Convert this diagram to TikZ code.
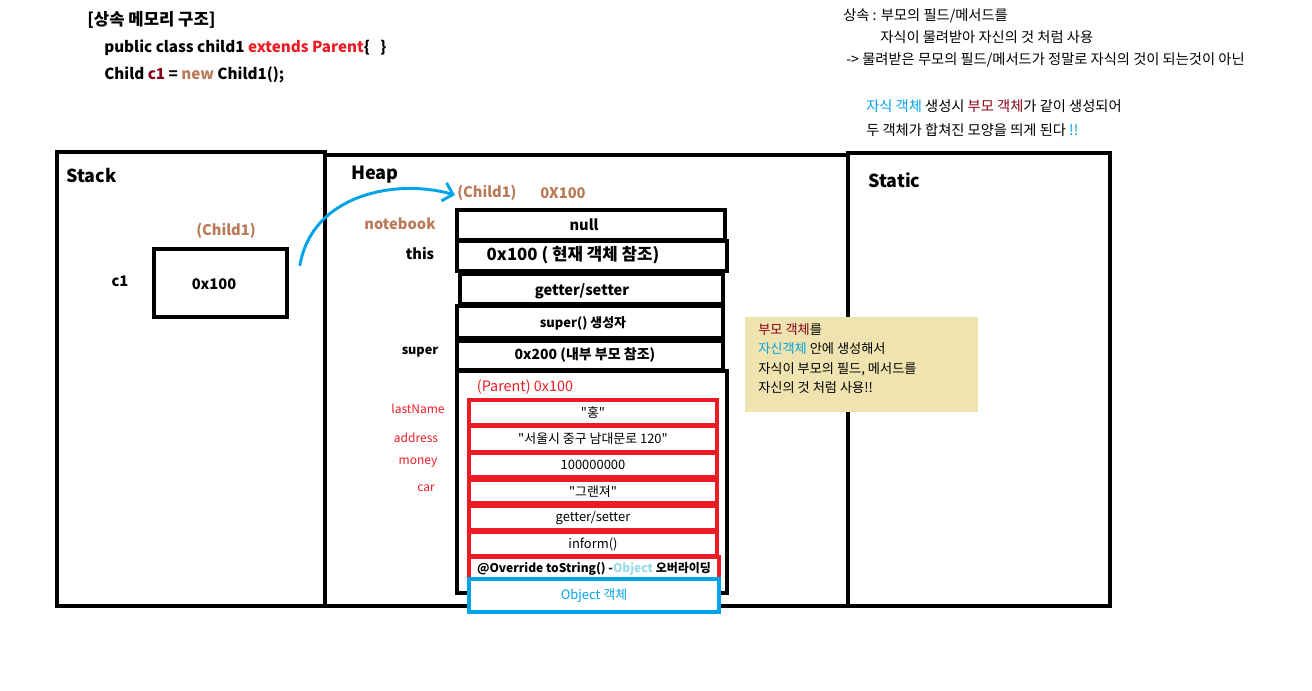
\documentclass[tikz,border=0pt]{standalone}
\usepackage{fontspec}
\setmainfont{Noto Sans CJK KR}[Ligatures=TeXOff]
\usetikzlibrary{arrows.meta}
\definecolor{cred}{HTML}{ED1C24}
\definecolor{cdark}{HTML}{880015}
\definecolor{cbrown}{HTML}{B97A57}
\definecolor{cblue}{HTML}{00A2E8}
\definecolor{clight}{HTML}{99D9EA}
\definecolor{cyel}{HTML}{EFE4B0}
\newcommand\fsz[1]{\fontsize{#1}{#1}\selectfont}
\tikzset{
  frame/.style={draw, line width=3pt, rectangle, inner sep=0pt},
  cell/.style={draw, line width=3pt, rectangle, inner sep=0pt, font=\bfseries\fsz{11}},
  rcell/.style={draw=cred, line width=3pt, rectangle, inner sep=0pt, font=\fsz{9.7}},
  lbl/.style={anchor=west, inner sep=0pt},
  ctr/.style={inner sep=0pt},
  expl/.style={anchor=west, inner sep=0pt, font=\fsz{10.7}},
  notet/.style={anchor=west, inner sep=0pt, font=\fsz{9.9}},
}
\begin{document}
\begin{tikzpicture}[x=0.75pt,y=-0.75pt]
\useasboundingbox (0,0) rectangle (1312,691);
% title code
\node[lbl, font=\bfseries\fsz{12.5}] (title) at (87,20) {[상속 메모리 구조]};
\node[lbl, font=\bfseries\fsz{11.4}] (code1) at (104,48) {public class child1 \textcolor{cred}{extends Parent}\{\ \ \ \}};
\node[lbl, font=\bfseries\fsz{11.4}] (code2) at (104,75) {Child \textcolor{cdark}{c1} = \textcolor{cbrown}{new} Child1();};
% explanation
\node[expl] (ex1) at (843,16) {상속 : 부모의 필드/메서드를};
\node[expl] (ex2) at (880,37) {자식이 물려받아 자신의 것 처럼 사용};
\node[expl] (ex3) at (846,60) {-> 물려받은 무모의 필드/메서드가 정말로 자식의 것이 되는것이 아닌};
\node[expl] (ex4) at (866,106) {\textcolor{cblue}{자식 객체} 생성시 \textcolor{cdark}{부모 객체}가 같이 생성되어};
\node[expl] (ex5) at (866,130) {두 객체가 합쳐진 모양을 띄게 된다 \textcolor{cblue}{!!}};
% areas
\node[frame, minimum width=201pt, minimum height=340.5pt] (stack) at (191,379) {};
\node[frame, minimum width=392.25pt, minimum height=338.25pt] (heap) at (586.5,380.5) {};
\node[frame, minimum width=196.5pt, minimum height=339.75pt] (static) at (979,379.5) {};
\node[lbl, font=\bfseries\fsz{13.4}] (stackt) at (66,175) {Stack};
\node[lbl, font=\bfseries\fsz{13.6}] (heapt) at (351,175) {Heap};
\node[lbl, font=\bfseries\fsz{13.4}] (statict) at (868,180) {Static};
% stack content
\node[ctr, font=\bfseries\fsz{11}, text=cbrown] (ch1) at (226,231) {(Child1)};
\node[frame, minimum width=99.75pt, minimum height=51pt] (c1box) at (220.5,283) {};
\node[ctr, font=\bfseries\fsz{11}] (c1val) at (214,284) {0x100};
\node[ctr, font=\bfseries\fsz{11}] (c1) at (120,281) {c1};
% heap header
\node[lbl, font=\bfseries\fsz{11}, text=cbrown] (ch2) at (457,193) {(Child1)};
\node[lbl, font=\bfseries\fsz{11}, text=cbrown] (addr1) at (540,193) {0X100};
\coordinate (arrs) at (300,265);
\coordinate (arre) at (455,195);
\draw[cblue, line width=2.2pt, line cap=round, -{Straight Barb[length=7pt,width=14pt,line width=2.2pt]}]
  (arrs) .. controls (312,195) and (395,178) .. (arre);
% heap cells
\node[cell, minimum width=201pt, minimum height=22.5pt] (null) at (591,225) {};
\node[ctr, font=\bfseries\fsz{11}] (nullt) at (584,225) {null};
\node[cell, minimum width=202.5pt, minimum height=22.5pt] (this) at (592,256) {};
\node[ctr, font=\bfseries\fsz{12.6}] (thist) at (573,255) {0x100 ( 현재 객체 참조)};
\node[cell, minimum width=197.25pt, minimum height=22.5pt] (gs) at (591.5,289) {};
\node[ctr, font=\bfseries\fsz{11}] (gst) at (582,291) {getter/setter};
\node[cell, minimum width=199.5pt, minimum height=24pt] (sctor) at (590,322) {};
\node[ctr, font=\bfseries\fsz{9.7}] (sctort) at (583,323) {super() 생성자};
\node[cell, minimum width=199.5pt, minimum height=21.75pt] (sref) at (590,355.5) {};
\node[ctr, font=\bfseries\fsz{10.5}] (sreft) at (585,355) {0x200 (내부 부모 참조)};
\node[cell, minimum width=202.5pt, minimum height=166.5pt] (parent) at (592,482) {};
\node[ctr, font=\fsz{10.8}, text=cred] (part) at (525,387) {(Parent) 0x100};
% heap labels
\node[ctr, font=\bfseries\fsz{11}, text=cbrown] (lnb) at (400,224) {notebook};
\node[ctr, font=\bfseries\fsz{11}] (lthis) at (420,254) {this};
\node[ctr, font=\bfseries\fsz{9.5}] (lsuper) at (420,352) {super};
\node[ctr, font=\fsz{9}, text=cred] (lln) at (418,409) {lastName};
\node[ctr, font=\fsz{9}, text=cred] (lad) at (416,438) {address};
\node[ctr, font=\fsz{9}, text=cred] (lmo) at (418,463) {money};
\node[ctr, font=\fsz{9}, text=cred] (lcar) at (426,488) {car};
% parent cells
\node[rcell, minimum width=186pt, minimum height=18.75pt] (hong) at (593,412.5) {"홍"};
\node[rcell, minimum width=186pt, minimum height=19.5pt] (addr) at (593,439) {"서울시 중구 남대문로 120"};
\node[rcell, minimum width=186pt, minimum height=18pt] (money) at (593,465) {100000000};
\node[rcell, minimum width=186pt, minimum height=17.25pt] (car) at (593,491.5) {"그랜져"};
\node[rcell, minimum width=186pt, minimum height=18pt] (gs2) at (593,518) {getter/setter};
\node[rcell, minimum width=186pt, minimum height=18pt] (inform) at (593,544) {inform()};
\node[rcell, minimum width=187.5pt, minimum height=17.25pt, font=\bfseries\fsz{9}] (ovr) at (594,568.5) {@Override toString() -\textcolor{clight}{Object} 오버라이딩};
\node[draw=cblue, fill=white, line width=3pt, rectangle, inner sep=0pt, minimum width=187.5pt, minimum height=24.75pt, font=\fsz{9.7}, text=cblue] (obj) at (594,595.5) {Object 객체};
% note
\node[fill=cyel, inner sep=0pt, minimum width=174.75pt, minimum height=71.25pt] (note) at (861.5,364.5) {};
\node[notet] (n1) at (758,330) {\textcolor{cdark}{부모 객체}를};
\node[notet] (n2) at (758,349) {\textcolor{cblue}{자신객체} 안에 생성해서};
\node[notet] (n3) at (758,369) {자식이 부모의 필드, 메서드를};
\node[notet] (n4) at (758,388) {자신의 것 처럼 사용!!};
\end{tikzpicture}
\end{document}
